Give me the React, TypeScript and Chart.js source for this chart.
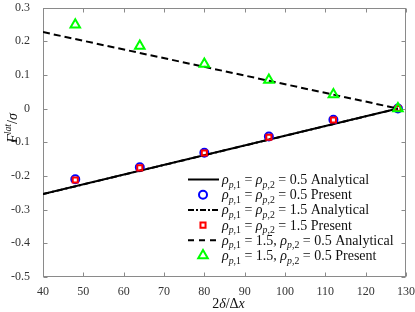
import React, { useEffect, useRef } from "react";
import { Chart, registerables } from "chart.js";

Chart.register(...registerables);

// ---------- data ----------
const xAnalytical = [40, 128];
const yEqual05Analytical = [-0.254, 0];
const yEqual15Analytical = [-0.254, 0];
const yMixedAnalytical = [0.227, 0];

const xPresent = [48, 64, 80, 96, 112, 128];
const yEqual05Present = [-0.21, -0.174, -0.131, -0.083, -0.033, 0];
const yEqual15Present = [-0.212, -0.176, -0.132, -0.085, -0.034, 0];
const yMixedPresent = [0.249, 0.186, 0.132, 0.085, 0.042, 0];

const xMin = 40, xMax = 130, xStep = 10;
const yMin = -0.5, yMax = 0.3, yStep = 0.1;

const legendMath = [
  "ρ_{p,1} = ρ_{p,2} = 0.5",
  "ρ_{p,1} = ρ_{p,2} = 0.5",
  "ρ_{p,1} = ρ_{p,2} = 1.5",
  "ρ_{p,1} = ρ_{p,2} = 1.5",
  "ρ_{p,1} = 1.5, ρ_{p,2} = 0.5",
  "ρ_{p,1} = 1.5, ρ_{p,2} = 0.5",
];
const legendWord = ["Analytical", "Present", "Analytical", "Present", "Analytical", "Present"];

const xTitle = "2δ/Δx";
const yTitle = "F^{lat}/σ";

// ---------- rich text ----------
type Seg = { t: string; it: boolean; pos: number };
function parseMath(s: string): Seg[] {
  const out: Seg[] = [];
  const isIt = (c: string) => /[A-Za-z]/.test(c) || /[α-ω]/.test(c);
  let i = 0;
  while (i < s.length) {
    const c = s[i];
    if ((c === "_" || c === "^") && s[i + 1] === "{") {
      const end = s.indexOf("}", i);
      const inner = s.slice(i + 2, end);
      for (const ch of inner) out.push({ t: ch, it: isIt(ch), pos: c === "_" ? -1 : 1 });
      i = end + 1;
      continue;
    }
    out.push({ t: c, it: isIt(c), pos: 0 });
    i++;
  }
  return out;
}
const FAM = '"Liberation Serif", "DejaVu Serif", serif';
function segFont(sg: Seg, size: number) {
  const sz = sg.pos === 0 ? size : size * 0.7;
  return `${sg.it ? "italic " : ""}${sz}px ${FAM}`;
}
function measureSegs(ctx: CanvasRenderingContext2D, segs: Seg[], size: number) {
  let w = 0;
  for (const sg of segs) {
    ctx.font = segFont(sg, size);
    w += ctx.measureText(sg.t).width;
  }
  return w;
}
function drawSegs(ctx: CanvasRenderingContext2D, segs: Seg[], x: number, y: number, size: number) {
  let cx = x;
  ctx.textBaseline = "alphabetic";
  ctx.textAlign = "left";
  for (const sg of segs) {
    ctx.font = segFont(sg, size);
    const dy = sg.pos === -1 ? size * 0.25 : sg.pos === 1 ? -size * 0.4 : 0;
    ctx.fillText(sg.t, cx, y + dy);
    cx += ctx.measureText(sg.t).width;
  }
  return cx;
}

// ---------- datasets ----------
const pts = (xs: number[], ys: number[]) => xs.map((x, i) => ({ x, y: ys[i] }));

const datasets: any[] = [
  {
    label: legendMath[0] + " " + legendWord[0],
    data: pts(xAnalytical, yEqual05Analytical),
    showLine: true, borderColor: "#000", borderWidth: 2, pointRadius: 0, order: 6,
    kind: "line", dash: [],
  },
  {
    label: legendMath[1] + " " + legendWord[1],
    data: pts(xPresent, yEqual05Present),
    pointStyle: "circle", pointRadius: 4, pointBorderWidth: 2, borderColor: "#0000ff",
    pointBorderColor: "#0000ff", backgroundColor: "rgba(0,0,0,0)", pointBackgroundColor: "rgba(0,0,0,0)", order: 5,
    kind: "marker",
  },
  {
    label: legendMath[2] + " " + legendWord[2],
    data: pts(xAnalytical, yEqual15Analytical),
    showLine: true, borderColor: "#000", borderWidth: 2, pointRadius: 0, borderDash: [6, 3, 2, 3], order: 4,
    kind: "line", dash: [6, 2, 2, 2],
  },
  {
    label: legendMath[3] + " " + legendWord[3],
    data: pts(xPresent, yEqual15Present),
    pointStyle: "rect", pointRadius: 3.6, pointBorderWidth: 2, borderColor: "#ff0000",
    pointBorderColor: "#ff0000", backgroundColor: "rgba(0,0,0,0)", pointBackgroundColor: "rgba(0,0,0,0)", order: 3,
    kind: "marker",
  },
  {
    label: legendMath[4] + " " + legendWord[4],
    data: pts(xAnalytical, yMixedAnalytical),
    showLine: true, borderColor: "#000", borderWidth: 2, pointRadius: 0, borderDash: [7, 4], order: 2,
    kind: "line", dash: [6, 5],
  },
  {
    label: legendMath[5] + " " + legendWord[5],
    data: pts(xPresent, yMixedPresent),
    pointStyle: "triangle", pointRadius: 5.5, pointBorderWidth: 2, borderColor: "#00ff00",
    pointBorderColor: "#00ff00", backgroundColor: "rgba(0,0,0,0)", pointBackgroundColor: "rgba(0,0,0,0)", order: 1,
    kind: "marker",
  },
];

function drawMarker(ctx: CanvasRenderingContext2D, style: string, x: number, y: number, r: number) {
  ctx.beginPath();
  if (style === "circle") {
    ctx.arc(x, y, r, 0, Math.PI * 2);
  } else if (style === "rect") {
    const s = r * Math.SQRT1_2;
    ctx.rect(x - s, y - s, 2 * s, 2 * s);
  } else if (style === "triangle") {
    let a = 0;
    ctx.moveTo(x + Math.sin(a) * r, y - Math.cos(a) * r);
    a += (2 * Math.PI) / 3;
    ctx.lineTo(x + Math.sin(a) * r, y - Math.cos(a) * r);
    a += (2 * Math.PI) / 3;
    ctx.lineTo(x + Math.sin(a) * r, y - Math.cos(a) * r);
    ctx.closePath();
  }
  ctx.stroke();
}

const FRAME = "#8a8a8a";

const framePlugin = {
  id: "matlabFrame",
  beforeDatasetsDraw(chart: any) {
    const { ctx, chartArea: a, scales } = chart;
    ctx.save();
    ctx.strokeStyle = FRAME;
    ctx.lineWidth = 1;
    const L = Math.round(a.left) + 0.5, R = Math.round(a.right) - 0.5;
    const T = Math.round(a.top) + 0.5, B = Math.round(a.bottom) - 0.5;
    ctx.strokeRect(L, T, R - L, B - T);
    const tl = 4;
    ctx.beginPath();
    for (const t of scales.x.ticks) {
      const px = Math.round(scales.x.getPixelForValue(t.value)) + 0.5;
      ctx.moveTo(px, B); ctx.lineTo(px, B - tl);
      ctx.moveTo(px, T); ctx.lineTo(px, T + tl);
    }
    for (const t of scales.y.ticks) {
      const py = Math.round(scales.y.getPixelForValue(t.value)) + 0.5;
      ctx.moveTo(L, py); ctx.lineTo(L + tl, py);
      ctx.moveTo(R, py); ctx.lineTo(R - tl, py);
    }
    ctx.stroke();
    ctx.restore();
  },
  afterDraw(chart: any) {
    const { ctx, chartArea: a } = chart;
    ctx.save();
    ctx.fillStyle = "#111";
    // x title
    const xs = parseMath(xTitle);
    const xsz = 14;
    const xw = measureSegs(ctx, xs, xsz);
    drawSegs(ctx, xs, (a.left + a.right) / 2 + 4 - xw / 2, 308, xsz);
    // y title
    const ys = parseMath(yTitle);
    const ysz = 14;
    const yw = measureSegs(ctx, ys, ysz);
    ctx.translate(17, 128);
    ctx.rotate(-Math.PI / 2);
    drawSegs(ctx, ys, -yw / 2, 0, ysz);
    ctx.restore();

    // legend
    ctx.save();
    const x0 = a.left + 145, y0 = a.top + 172, dy = 15.2;
    const lineLen = 31, size = 14;
    chart.data.datasets.forEach((ds: any, i: number) => {
      const y = y0 + i * dy;
      if (ds.kind === "line") {
        ctx.strokeStyle = "#000";
        ctx.lineWidth = 2;
        ctx.setLineDash(ds.dash);
        ctx.beginPath();
        ctx.moveTo(x0, y);
        ctx.lineTo(x0 + lineLen, y);
        ctx.stroke();
        ctx.setLineDash([]);
      } else {
        ctx.strokeStyle = ds.pointBorderColor;
        ctx.lineWidth = 2;
        drawMarker(ctx, ds.pointStyle, x0 + 15, y, ds.pointRadius);
      }
      ctx.fillStyle = "#111";
      const segs = parseMath(legendMath[i]).concat([{ t: " " + legendWord[i], it: false, pos: 0 }]);
      drawSegs(ctx, segs, x0 + lineLen + 3, y + 4.5, size);
    });
    ctx.restore();
  },
};

export default function App() {
  const ref = useRef<HTMLCanvasElement>(null);
  useEffect(() => {
    const canvas = ref.current;
    if (!canvas) return;
    const chart = new Chart(canvas, {
      type: "scatter",
      data: { datasets },
      options: {
        animation: false,
        responsive: false,
        maintainAspectRatio: false,
        layout: { padding: { top: 7, right: 9, left: 0, bottom: 0 } },
        plugins: { legend: { display: false }, tooltip: { enabled: false }, title: { display: false } },
        scales: {
          x: {
            type: "linear",
            min: xMin, max: xMax,
            grid: { display: false },
            border: { display: false },
            ticks: {
              stepSize: xStep,
              padding: 0,
              color: "#333",
              font: { family: '"Liberation Serif", serif', size: 12 },
              maxRotation: 0,
            },
            afterFit: (s: any) => { s.height = 35; s.paddingLeft = 0; s.paddingRight = 0; },
          },
          y: {
            type: "linear",
            min: yMin, max: yMax,
            grid: { display: false },
            border: { display: false },
            ticks: {
              stepSize: yStep,
              padding: 5,
              color: "#333",
              font: { family: '"Liberation Serif", serif', size: 12 },
              callback: (v: any) => Number(Number(v).toFixed(1)).toString(),
            },
            afterFit: (s: any) => { s.width = 43; s.paddingTop = 0; s.paddingBottom = 0; },
          },
        },
      } as any,
      plugins: [framePlugin],
    });
    return () => chart.destroy();
  }, []);
  return (
    <div style={{ position: "fixed", left: 0, top: 0, width: 415, height: 312, background: "#fff" }}>
      <canvas ref={ref} width={415} height={312} style={{ display: "block", width: 415, height: 312 }} />
    </div>
  );
}
